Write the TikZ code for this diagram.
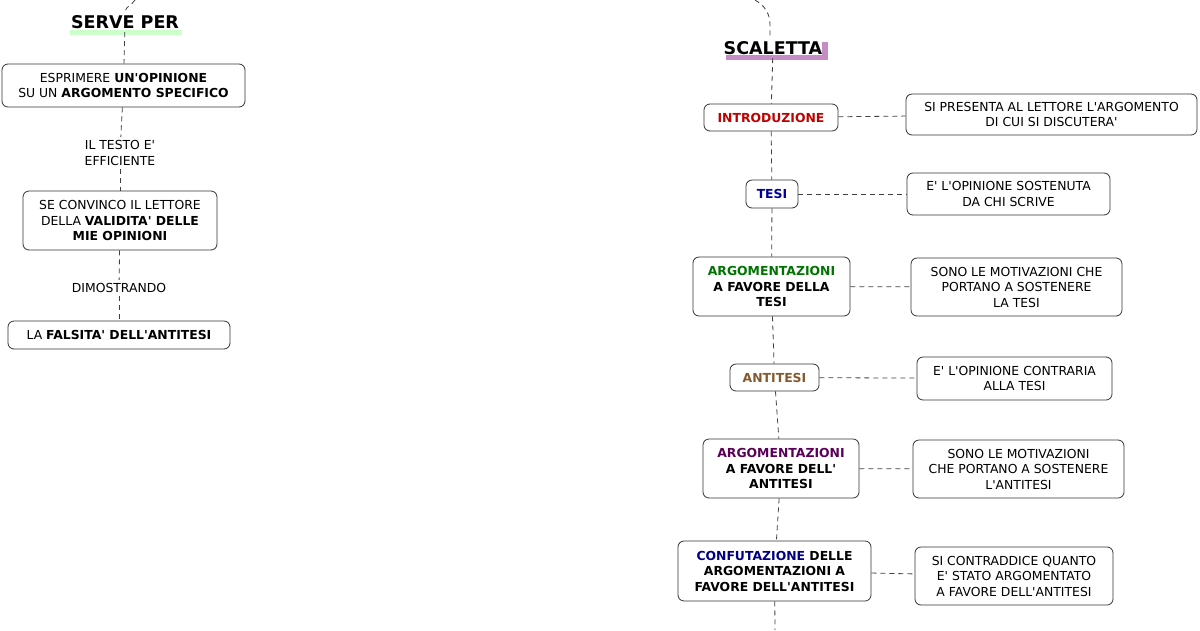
\documentclass[tikz,border=0pt]{standalone}
\usepackage{fontspec}
\newfontfamily\dv{DejaVu Sans}
\begin{document}
\begin{tikzpicture}[x=1pt,y=-1pt,
 box/.style={draw=black!80,line width=0.8pt,rounded corners=6pt,align=center,font=\dv\fontsize{12.4}{15.5}\selectfont,inner sep=0pt},
 bbox/.style={box,font=\dv\bfseries\fontsize{12.4}{15.5}\selectfont},
 lbl/.style={align=center,font=\dv\fontsize{12.4}{15.5}\selectfont},
 head/.style={font=\dv\bfseries\fontsize{17.5}{20}\selectfont},
 con/.style={black!75,line width=0.8pt,dash pattern=on 5pt off 4pt}]
\useasboundingbox (0,0) rectangle (1200,630);
% left
\fill[green!20] (70,30) rectangle (182,35);
\node[head] (serve) at (125,22) {SERVE PER};
\coordinate (s0) at (135,0);
\node[box,minimum width=243pt,minimum height=43pt] (esp) at (123.5,85.5) {ESPRIMERE \textbf{UN'OPINIONE}\\SU UN \textbf{ARGOMENTO SPECIFICO}};
\node[lbl] (testo) at (120,153) {IL TESTO E'\\EFFICIENTE};
\node[box,minimum width=194pt,minimum height=59pt] (conv) at (120,220.5) {SE CONVINCO IL LETTORE\\DELLA \textbf{VALIDITA' DELLE}\\\textbf{MIE OPINIONI}};
\node[lbl] (dim) at (119,288) {DIMOSTRANDO};
\node[box,minimum width=222pt,minimum height=28pt] (fal) at (119,335) {LA \textbf{FALSITA' DELL'ANTITESI}};
\draw[con] (s0) to[out=-120,in=80] (serve.north);
\draw[con] (serve) -- (esp);
\draw[con] (esp) -- (testo);
\draw[con] (testo) -- (conv);
\draw[con] (conv) -- (dim);
\draw[con] (dim) -- (fal);
% right
\fill[violet!45] (726,55) rectangle (828,60);
\fill[violet!45] (822,42) rectangle (828,60);
\node[head] (scal) at (773,48) {SCALETTA};
\coordinate (r0) at (755,0);
\node[bbox,minimum width=134pt,minimum height=27pt,text=red!75!black] (intro) at (771,117.5) {INTRODUZIONE};
\node[box,minimum width=291pt,minimum height=41pt] (d1) at (1051.5,114.5) {SI PRESENTA AL LETTORE L'ARGOMENTO\\DI CUI SI DISCUTERA'};
\node[bbox,minimum width=52pt,minimum height=28pt,text=blue!60!black] (tesi) at (772,194) {TESI};
\node[box,minimum width=203pt,minimum height=42pt] (d2) at (1008.5,194) {E' L'OPINIONE SOSTENUTA\\DA CHI SCRIVE};
\node[bbox,minimum width=157pt,minimum height=59pt] (arg1) at (771.5,286.5) {\textcolor{green!45!black}{ARGOMENTAZIONI}\\A FAVORE DELLA\\TESI};
\node[box,minimum width=211pt,minimum height=58pt] (d3) at (1016.5,287) {SONO LE MOTIVAZIONI CHE\\PORTANO A SOSTENERE\\LA TESI};
\node[bbox,minimum width=89pt,minimum height=27pt,text=brown!70!black] (anti) at (774.5,377.5) {ANTITESI};
\node[box,minimum width=195pt,minimum height=43pt] (d4) at (1014.5,378.5) {E' L'OPINIONE CONTRARIA\\ALLA TESI};
\node[bbox,minimum width=156pt,minimum height=59pt] (arg2) at (781,468.5) {\textcolor{violet!70!black}{ARGOMENTAZIONI}\\A FAVORE DELL'\\ANTITESI};
\node[box,minimum width=211pt,minimum height=58pt] (d5) at (1018.5,469) {SONO LE MOTIVAZIONI\\CHE PORTANO A SOSTENERE\\L'ANTITESI};
\node[bbox,minimum width=193pt,minimum height=60pt] (conf) at (774.5,571) {\textcolor{blue!50!black}{CONFUTAZIONE} DELLE\\ARGOMENTAZIONI A\\FAVORE DELL'ANTITESI};
\node[box,minimum width=198pt,minimum height=58pt] (d6) at (1014,576) {SI CONTRADDICE QUANTO\\E' STATO ARGOMENTATO\\A FAVORE DELL'ANTITESI};
\coordinate (rend) at (775,630);
\draw[con] (r0) to[out=-30,in=90] (770,25) -- (scal.north -| 770,0);
\draw[con] (scal) -- (intro);
\draw[con] (intro) -- (tesi);
\draw[con] (tesi) -- (arg1);
\draw[con] (arg1) -- (anti);
\draw[con] (anti) -- (arg2);
\draw[con] (arg2) -- (conf);
\draw[con] (conf) -- (rend);
\draw[con] (intro) -- (d1);
\draw[con] (tesi) -- (d2);
\draw[con] (arg1) -- (d3);
\draw[con] (anti) -- (d4);
\draw[con] (arg2) -- (d5);
\draw[con] (conf) -- (d6);
\end{tikzpicture}
\end{document}
